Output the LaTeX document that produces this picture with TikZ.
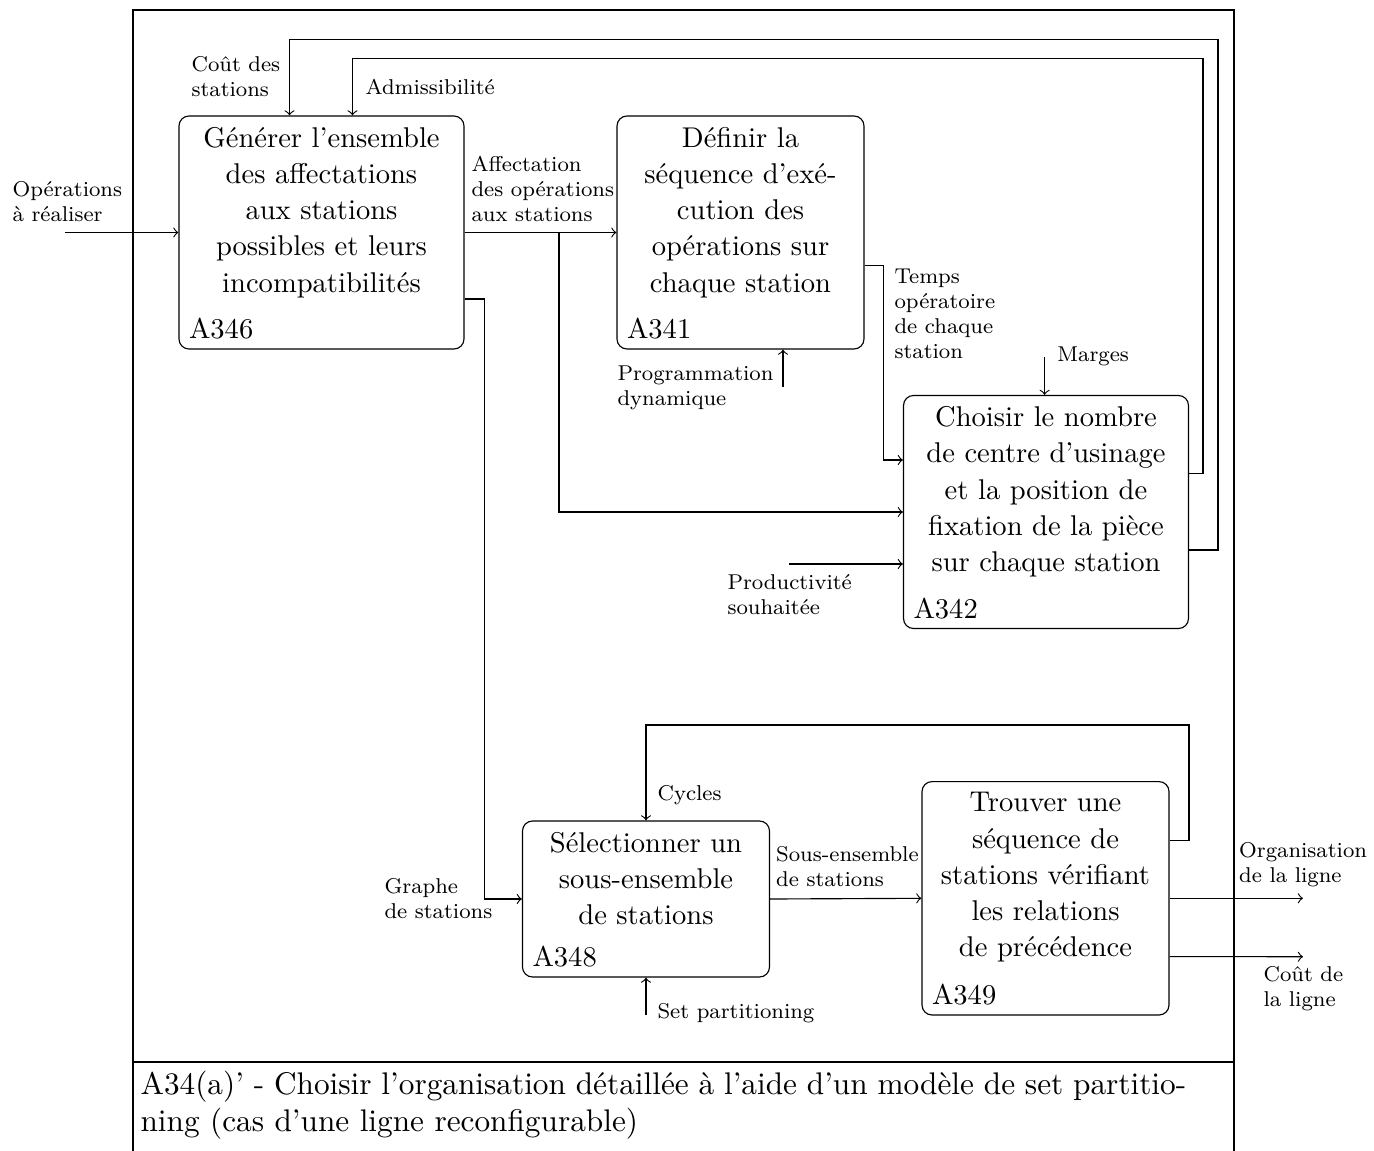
\documentclass[tikz,border=0pt]{standalone}
\usetikzlibrary{positioning}

\tikzset{
  act/.style={draw, rounded corners=3.5pt, inner sep=0pt},
  acttxt/.style={align=center, inner sep=0pt, font=\fontsize{10}{12.7}\selectfont},
  actid/.style={anchor=base west, inner sep=0pt, font=\fontsize{10}{12.7}\selectfont},
  lbl/.style={anchor=base west, align=left, inner sep=0pt, font=\fontsize{7.5}{8.75}\selectfont},
  flow/.style={->},
}

\begin{document}
\begin{tikzpicture}[x=0.35pt, y=-0.35pt]
    \useasboundingbox (0,0) rectangle (1374,1151);

    % cadre et titre
    \draw (133,1151) -- (133,10) -- (1234,10) -- (1234,1151);
    \draw (133,1062) -- (1234,1062);
    \node[anchor=base west, text width=366pt, align=justify, inner sep=0pt, font=\fontsize{10.95}{13}\selectfont] (titre) at (140,1094)
        {A34(a)’ - Choisir l’organisation détaillée à l’aide d’un modèle de set partitio-\linebreak ning (cas d’une ligne reconfigurable)};

    % activites
    \node[act, minimum width=99.75pt, minimum height=81.55pt] (a346) at (321.5,232.5) {};
    \node[act, minimum width=86.45pt, minimum height=81.55pt] (a341) at (740.5,232.5) {};
    \node[act, minimum width=99.75pt, minimum height=81.55pt] (a342) at (1046,512) {};
    \node[act, minimum width=86.45pt, minimum height=54.6pt] (a348) at (646,899) {};
    \node[act, minimum width=86.45pt, minimum height=81.7pt] (a349) at (1045.5,898.3) {};

    \node[acttxt, below=3.8pt of a346.north] (t346) {Générer l’ensemble\\des affectations\\aux stations\\possibles et leurs\\incompatibilités};
    \node[acttxt, below=3.8pt of a341.north] (t341) {Définir la\\séquence d’exé-\\cution des\\opérations sur\\chaque station};
    \node[acttxt, below=3.8pt of a342.north] (t342) {Choisir le nombre\\de centre d’usinage\\et la position de\\fixation de la pièce\\sur chaque station};
    \node[acttxt, below=3.8pt of a348.north] (t348) {Sélectionner un\\sous-ensemble\\de stations};
    \node[acttxt, below=3.8pt of a349.north] (t349) {Trouver une\\séquence de\\stations vérifiant\\les relations\\de précédence};

    \node[actid] (id346) at ([xshift=3.5pt, yshift=3.8pt]a346.south west) {A346};
    \node[actid] (id341) at ([xshift=3.5pt, yshift=3.8pt]a341.south west) {A341};
    \node[actid] (id342) at ([xshift=3.5pt, yshift=3.8pt]a342.south west) {A342};
    \node[actid] (id348) at ([xshift=3.5pt, yshift=3.8pt]a348.south west) {A348};
    \node[actid] (id349) at ([xshift=3.5pt, yshift=3.8pt]a349.south west) {A349};

    % entrees, controles, sorties
    \coordinate (inops) at (65,232.5);
    \coordinate (split) at (559,232.5);
    \coordinate (inprog) at (783,387);
    \coordinate (inmarg) at (1044.6,357);
    \coordinate (inprod) at (789,564);
    \coordinate (insp) at (646,1015);
    \coordinate (outorg) at (1303,898.3);
    \coordinate (outcout) at (1303,956.7);

    \draw[flow] (inops) -- (a346.west);
    \draw[flow] (a346.east) -- (a341.west);
    \draw[flow] (split) |- (a342.west);
    \draw[flow] ([yshift=-23.3pt]a346.east) -- ++(19.5,0) |- (a348.west);
    \draw[flow] ([yshift=-11.6pt]a341.east) -- ++(18.5,0) |- ([yshift=18.2pt]a342.west);
    \draw[flow] (inprog) -- (inprog |- a341.south);
    \draw[flow] (inmarg) -- (inmarg |- a342.north);
    \draw[flow] (inprod) -- (inprod -| a342.west);
    \draw[flow] ([yshift=13.5pt]a342.east) -| (1203,58.3) -| ([xshift=10.85pt]a346.north);
    \draw[flow] ([yshift=-13.3pt]a342.east) -| (1218,39.3) -| ([xshift=-11.2pt]a346.north);
    \draw[flow] (a348.east) -- (a349.west);
    \draw[flow] ([yshift=20.3pt]a349.east) -| (1189,725) -| (a348.north);
    \draw[flow] (insp) -- (a348.south);
    \draw[flow] (a349.east) -- (outorg);
    \draw[flow] ([yshift=-20.4pt]a349.east) -- (outcout);

    % etiquettes
    \node[lbl] (lops) at (12,221.7) {Opérations\\à réaliser};
    \node[lbl] (lcout) at (191,96.7) {Coût des\\stations};
    \node[lbl] (ladm) at (365,95) {Admissibilité};
    \node[lbl] (laff) at (471,221.7) {Affectation\\des opérations\\aux stations};
    \node[lbl] (ltemps) at (894,358) {Temps\\opératoire\\de chaque\\station};
    \node[lbl] (lprog) at (617,405) {Programmation\\dynamique};
    \node[lbl] (lmarg) at (1056.7,361.7) {Marges};
    \node[lbl] (lprod) at (727,614) {Productivité\\souhaitée};
    \node[lbl] (lgraphe) at (384,918) {Graphe\\de stations};
    \node[lbl] (lcycles) at (657,800) {Cycles};
    \node[lbl] (lsous) at (775.6,886.7) {Sous-ensemble\\de stations};
    \node[lbl] (lsp) at (657,1018) {Set partitioning};
    \node[lbl] (lorg) at (1238.6,882.7) {Organisation\\de la ligne};
    \node[lbl] (lcl) at (1263,1006) {Coût de\\la ligne};
\end{tikzpicture}
\end{document}
